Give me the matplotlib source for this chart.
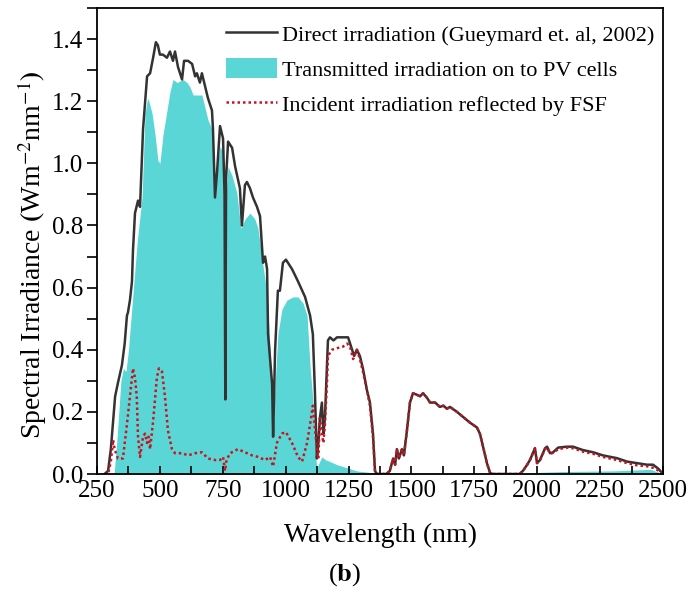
import matplotlib

matplotlib.use("Agg")
import matplotlib.pyplot as plt
from matplotlib.patches import Patch
from matplotlib.lines import Line2D
from matplotlib.ticker import MultipleLocator

plt.rcParams["font.family"] = ["Liberation Serif", "DejaVu Serif"]
plt.rcParams["mathtext.fontset"] = "stix"

# direct irradiation (Gueymard 2002)
direct_wl = [280, 294, 305, 322, 335, 349, 360, 369, 373, 381, 389, 393, 401, 413, 421, 433,
             449, 461, 473, 484, 492, 500, 512, 528, 540, 552, 560, 572, 588, 596, 612, 628,
             640, 647, 659, 667, 679, 691, 707, 711, 719, 727, 739, 751, 757, 760, 763, 771,
             787, 799, 818, 826, 838, 846, 858, 870, 886, 898, 910, 918, 926, 930, 946, 950,
             958, 969, 977, 989, 1001, 1025, 1049, 1077, 1097, 1108, 1116, 1124, 1130, 1136,
             1144, 1150, 1156, 1168, 1176, 1190, 1204, 1228, 1248, 1264, 1272, 1283, 1295,
             1307, 1323, 1335, 1347, 1355, 1362, 1400, 1414, 1427, 1435, 1442, 1450, 1462,
             1470, 1482, 1494, 1506, 1522, 1534, 1546, 1562, 1574, 1594, 1613, 1627, 1641,
             1653, 1681, 1705, 1733, 1760, 1772, 1784, 1800, 1812, 1820, 1930, 1943, 1960,
             1971, 1991, 1999, 2011, 2031, 2039, 2051, 2063, 2083, 2118, 2142, 2182, 2222,
             2261, 2317, 2357, 2397, 2436, 2460, 2480, 2500]
direct_val = [0.0, 0.01, 0.08, 0.25, 0.30, 0.35, 0.42, 0.51, 0.52, 0.56, 0.62, 0.72, 0.84, 0.88,
              0.86, 1.11, 1.28, 1.29, 1.34, 1.39, 1.38, 1.35, 1.35, 1.34, 1.36, 1.33, 1.36, 1.31,
              1.27, 1.33, 1.33, 1.32, 1.28, 1.29, 1.26, 1.29, 1.25, 1.21, 1.17, 1.11, 0.89, 0.97,
              1.12, 1.08, 0.90, 0.24, 0.95, 1.07, 1.05, 0.99, 0.92, 0.80, 0.93, 0.94, 0.92, 0.89,
              0.86, 0.83, 0.68, 0.70, 0.66, 0.45, 0.29, 0.12, 0.40, 0.59, 0.59, 0.68, 0.69, 0.66,
              0.62, 0.57, 0.51, 0.45, 0.27, 0.05, 0.10, 0.18, 0.23, 0.13, 0.18, 0.43, 0.44, 0.43,
              0.44, 0.44, 0.44, 0.40, 0.38, 0.40, 0.38, 0.34, 0.27, 0.23, 0.13, 0.01, 0.0, 0.0,
              0.01, 0.05, 0.03, 0.08, 0.05, 0.08, 0.06, 0.14, 0.23, 0.26, 0.255, 0.25, 0.26,
              0.245, 0.23, 0.23, 0.216, 0.22, 0.21, 0.216, 0.20, 0.184, 0.165, 0.15, 0.13, 0.09,
              0.035, 0.005, 0.0, 0.0, 0.01, 0.03, 0.045, 0.083, 0.035, 0.045, 0.083, 0.088, 0.067,
              0.07, 0.085, 0.088, 0.088, 0.077, 0.07, 0.06, 0.051, 0.04, 0.035, 0.03, 0.03, 0.018,
              0.0]

# transmitted irradiation on to PV cells
trans_wl = [280, 318, 330, 345, 355, 365, 375, 390, 410, 429, 441, 449, 453, 469, 481, 492, 500,
            512, 528, 540, 552, 568, 580, 592, 608, 620, 632, 648, 667, 679, 691, 707, 715, 722,
            739, 751, 757, 760, 763, 771, 787, 806, 822, 838, 858, 878, 890, 906, 910, 926, 938,
            950, 958, 969, 985, 1005, 1029, 1049, 1069, 1085, 1097, 1108, 1116, 1124, 1135, 1144,
            1160, 1176, 1204, 1244, 1283, 1335, 1360, 1950, 2000, 2100, 2300, 2450, 2500]
trans_val = [0.0, 0.0, 0.12, 0.30, 0.34, 0.33, 0.40, 0.55, 0.75, 0.89, 1.16, 1.20, 1.21, 1.16,
             1.09, 1.01, 1.00, 1.09, 1.17, 1.23, 1.27, 1.26, 1.265, 1.27, 1.26, 1.245, 1.22, 1.22,
             1.22, 1.18, 1.14, 1.11, 0.89, 0.95, 1.055, 1.035, 0.90, 0.25, 0.90, 0.99, 0.96,
             0.905, 0.79, 0.82, 0.84, 0.82, 0.79, 0.70, 0.67, 0.58, 0.40, 0.16, 0.29, 0.45, 0.53,
             0.56, 0.57, 0.57, 0.55, 0.51, 0.345, 0.24, 0.08, 0.02, 0.04, 0.055, 0.045, 0.04,
             0.03, 0.02, 0.01, 0.005, 0.002, 0.002, 0.005, 0.008, 0.01, 0.015, 0.0]

# incident irradiation reflected by FSF
refl_wl = [280, 294, 305, 314, 320, 333, 353, 369, 381, 393, 401, 408, 413, 421, 433, 441, 449,
           455, 461, 473, 488, 496, 508, 520, 532, 548, 560, 588, 612, 640, 667, 691, 719, 739,
           751, 759, 765, 779, 810, 838, 866, 890, 918, 938, 950, 965, 985, 1001, 1025, 1049,
           1065, 1085, 1097, 1108, 1116, 1124, 1130, 1136, 1144, 1150, 1156, 1164, 1168, 1184,
           1204, 1228, 1244, 1256, 1268, 1283, 1295, 1307, 1323, 1335, 1347, 1355, 1362, 1400,
           1414, 1427, 1435, 1442, 1450, 1462, 1470, 1482, 1494, 1506, 1522, 1534, 1546, 1562,
           1574, 1594, 1613, 1627, 1641, 1653, 1681, 1705, 1733, 1760, 1772, 1784, 1800, 1812,
           1820, 1930, 1943, 1960, 1971, 1991, 1999, 2011, 2031, 2039, 2051, 2063, 2083, 2118,
           2142, 2182, 2222, 2261, 2317, 2357, 2397, 2436, 2460, 2480, 2500]
refl_val = [0.0, 0.0, 0.04, 0.11, 0.08, 0.05, 0.05, 0.16, 0.25, 0.34, 0.31, 0.25, 0.12, 0.055,
            0.12, 0.13, 0.10, 0.12, 0.08, 0.17, 0.31, 0.34, 0.33, 0.25, 0.14, 0.08, 0.067, 0.067,
            0.06, 0.067, 0.07, 0.05, 0.045, 0.045, 0.055, 0.01, 0.045, 0.067, 0.08, 0.07, 0.06,
            0.055, 0.045, 0.055, 0.024, 0.10, 0.13, 0.135, 0.10, 0.055, 0.04, 0.10, 0.16, 0.22,
            0.15, 0.08, 0.05, 0.18, 0.13, 0.10, 0.16, 0.29, 0.38, 0.40, 0.405, 0.41, 0.42, 0.41,
            0.37, 0.40, 0.37, 0.33, 0.27, 0.22, 0.12, 0.01, 0.0, 0.0, 0.01, 0.05, 0.03, 0.08,
            0.05, 0.08, 0.06, 0.14, 0.23, 0.26, 0.255, 0.25, 0.26, 0.245, 0.23, 0.23, 0.216,
            0.22, 0.21, 0.216, 0.20, 0.184, 0.165, 0.15, 0.13, 0.09, 0.035, 0.005, 0.0, 0.0,
            0.01, 0.03, 0.045, 0.083, 0.035, 0.045, 0.08, 0.085, 0.065, 0.068, 0.08, 0.085,
            0.083, 0.072, 0.065, 0.055, 0.045, 0.035, 0.028, 0.025, 0.02, 0.012, 0.0]

fig = plt.figure(figsize=(6.89, 5.94), dpi=100)
ax = fig.add_axes([0.1408, 0.202, 0.8215, 0.7845])

ax.fill_between(trans_wl, 0, trans_val, color="#5ad6d6", linewidth=0)
ax.plot(direct_wl, direct_val, color="#333333", lw=1.8)
ax.plot(refl_wl, refl_val, color="#c8141e", lw=1.8, ls=(0, (1, 1.2)))

ax.set_xlim(250, 2500)
ax.set_ylim(0, 1.5)
ax.xaxis.set_major_locator(MultipleLocator(250))
ax.xaxis.set_minor_locator(MultipleLocator(125))
ax.yaxis.set_major_locator(MultipleLocator(0.2))
ax.yaxis.set_minor_locator(MultipleLocator(0.1))
ax.yaxis.set_major_formatter(plt.FuncFormatter(lambda v, p: f"{v:.1f}"))
ax.tick_params(axis="x", which="both", direction="in", length=6, width=1.2, labelsize=18, pad=4)
ax.tick_params(axis="y", which="both", direction="out", length=7, width=1.2, labelsize=18, pad=3)
for s in ax.spines.values():
    s.set_linewidth(1.3)

ax.set_xlabel("Wavelength (nm)", fontsize=20, labelpad=15)
ax.set_ylabel(r"Spectral Irradiance $\mathbf{(}$Wm$^{-2}$nm$^{-1}$$\mathbf{)}$", fontsize=20)
ax.yaxis.set_label_coords(-0.085, 0.472)

handles = [Line2D([], [], color="#333333", lw=1.8),
           Patch(facecolor="#5ad6d6", edgecolor="none"),
           Line2D([], [], color="#c8141e", lw=1.8, ls=(0, (1, 1.2)))]
labels = ["Direct irradiation (Gueymard et. al, 2002)",
          "Transmitted irradiation on to PV cells",
          "Incident irradiation reflected by FSF"]
ax.legend(handles, labels, loc="upper right", bbox_to_anchor=(1.012, 1.0), frameon=False,
          fontsize=16, handlelength=2.3, handleheight=1.0, handletextpad=0.2,
          labelspacing=0.55, borderaxespad=0.3)

fig.text(0.5, 0.022, r"($\mathbf{b}$)", ha="center", fontsize=19)

fig.savefig("out.png", dpi=100)
